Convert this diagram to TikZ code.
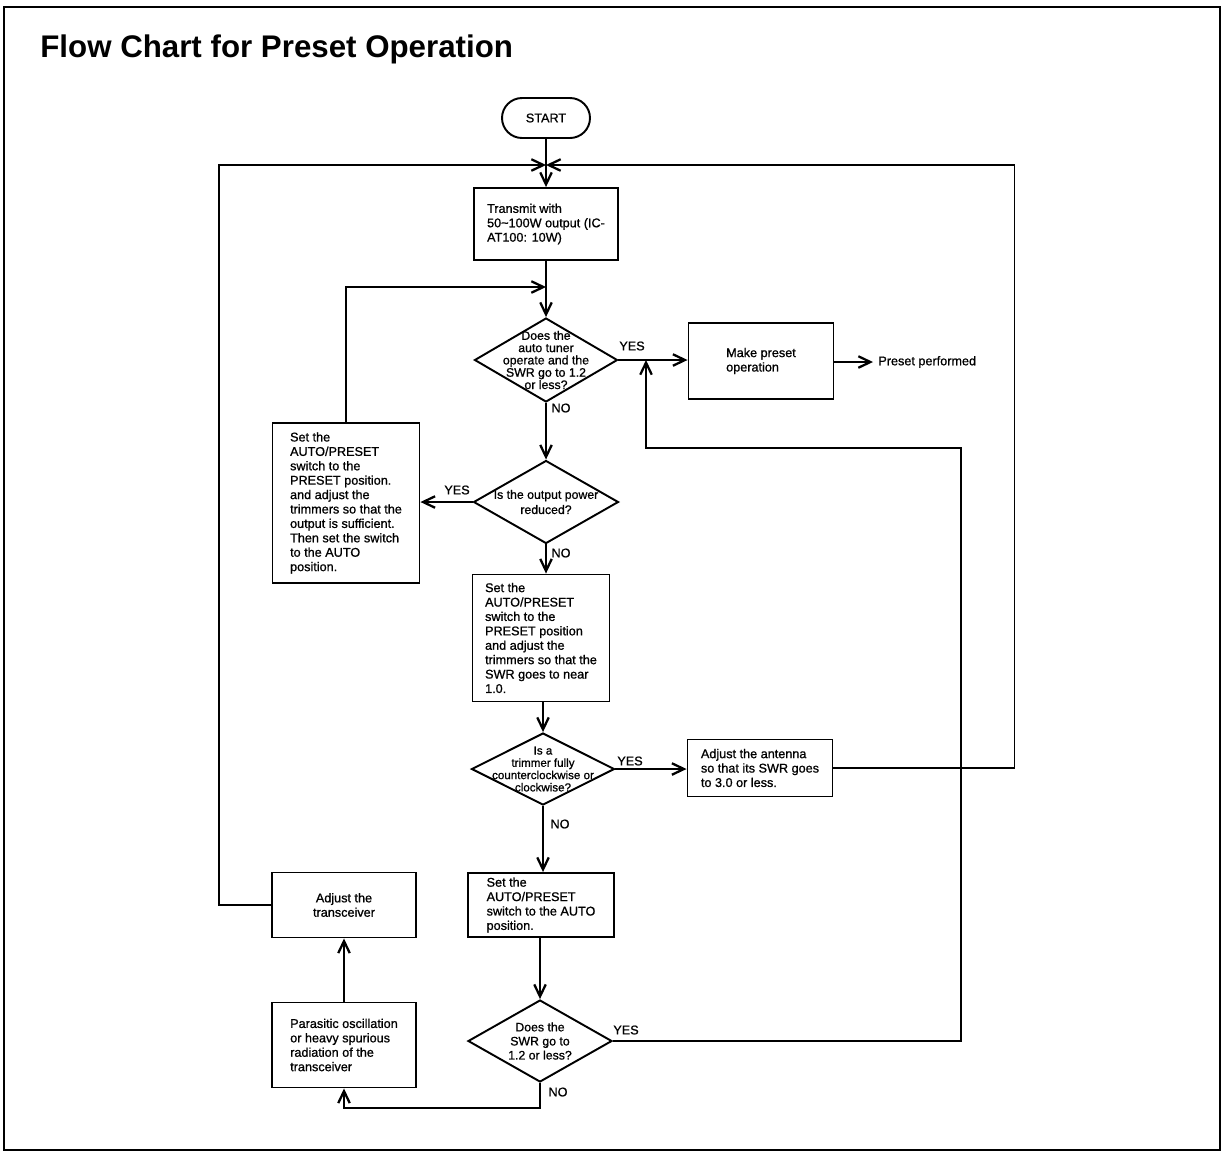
\documentclass[tikz,border=0pt]{standalone}
\usepackage{fontspec}
\setmainfont{Liberation Sans}
\newfontfamily\medfont{Liberation Sans}[FakeBold=0.9]
\usetikzlibrary{positioning,arrows.meta,shapes.geometric}
\newcommand{\boxfont}{\medfont\fontsize{7.2}{8.2}\selectfont}
\newcommand{\decfont}{\medfont\fontsize{7.0}{7.0}\selectfont}

\begin{document}
\begin{tikzpicture}[x=0.02cm, y=-0.02cm,
  box/.style={draw, line width=1.1pt, align=left, font=\boxfont, inner sep=0pt},
  dec/.style={draw, diamond, line width=1.1pt, inner sep=0pt},
  dtxt/.style={align=center, font=\decfont, inner sep=0pt},
  lbl/.style={font=\boxfont, inner sep=1pt},
  arr/.style={-{Straight Barb[length=2.4mm,width=2.3mm,line width=1.3pt]}, line width=1.1pt}]
\useasboundingbox (0,0) rectangle (1223,1154);
\draw[line width=1pt] (4,7) rectangle (1220,1150);
\node[anchor=base west, font=\fontsize{17.8}{20}\selectfont\bfseries, inner sep=0pt] (title) at (40,57) {Flow Chart for Preset Operation};

% main column
\node[box, rounded corners=0.4cm, minimum width=1.76cm, minimum height=0.8cm, align=center] (start) at (546,118) {START};
\node[box, minimum width=2.88cm, minimum height=1.44cm] (tx) at (546,224) {Transmit with\\50\textasciitilde 100W output (IC-\\AT100: 10W)};
\node[dec, minimum width=2.86cm, minimum height=1.68cm,
      label={[dtxt]center:Does the\\auto tuner\\operate and the\\SWR go to 1.2\\or less?}] (q1) at (546,360) {};
\node[box, minimum width=2.9cm, minimum height=1.52cm] (preset) at (761,361) {Make preset\\operation};
\node[anchor=west, font=\boxfont, inner sep=0pt] (done) at (878,362) {Preset performed};
\node[dec, minimum width=2.9cm, minimum height=1.66cm,
      label={[dtxt, font=\medfont\fontsize{7.0}{8.6}\selectfont]center:Is the output power\\reduced?}] (q2) at (546,502) {};
\node[box, minimum width=2.94cm, minimum height=3.2cm] (trim1) at (346,503) {Set the\\AUTO/PRESET\\switch to the\\PRESET position.\\and adjust the\\trimmers so that the\\output is sufficient.\\Then set the switch\\to the AUTO\\position.};
\node[box, minimum width=2.74cm, minimum height=2.54cm] (trim2) at (541,638) {Set the\\AUTO/PRESET\\switch to the\\PRESET position\\and adjust the\\trimmers so that the\\SWR goes to near\\1.0.};
\node[dec, minimum width=2.86cm, minimum height=1.44cm,
      label={[dtxt, font=\medfont\fontsize{6.6}{7.0}\selectfont]center:Is a\\trimmer fully\\counterclockwise or\\clockwise?}] (q3) at (543,769) {};
\node[box, minimum width=2.9cm, minimum height=1.14cm] (ant) at (760,768) {Adjust the antenna\\so that its SWR goes\\to 3.0 or less.};
\node[box, minimum width=2.92cm, minimum height=1.28cm] (auto) at (541,905) {Set the\\AUTO/PRESET\\switch to the AUTO\\position.};
\node[dec, minimum width=2.88cm, minimum height=1.64cm,
      label={[dtxt, font=\medfont\fontsize{7.0}{8.0}\selectfont]center:Does the\\SWR go to\\1.2 or less?}] (q4) at (540,1041) {};
\node[box, minimum width=2.88cm, minimum height=1.3cm, align=center] (xcvr) at (344,905) {Adjust the\\transceiver};
\node[box, minimum width=2.88cm, minimum height=1.7cm] (para) at (344,1045) {Parasitic oscillation\\or heavy spurious\\radiation of the\\transceiver};

\coordinate (jtop) at (546,165);
\coordinate (jmid) at (546,287);
\coordinate (yj) at (646,360);

% branch labels
\node[lbl] (y1) at (632,346) {YES};
\node[lbl] (n1) at (561,408) {NO};
\node[lbl] (y2) at (457,490) {YES};
\node[lbl] (n2) at (561,553) {NO};
\node[lbl] (y3) at (630,761) {YES};
\node[lbl] (n3) at (560,824) {NO};
\node[lbl] (y4) at (626,1030) {YES};
\node[lbl] (n4) at (558,1092) {NO};

% connectors
\draw[arr] (start) -- (tx);
\draw[arr] (xcvr.west) -- ++(-52,0) |- (jtop);
\draw[arr] (ant.east) -- ++(181,0) |- (jtop);
\draw[arr] (tx) -- (q1);
\draw[arr] (trim1.north) |- (jmid);
\draw[arr] (q1.east) -- (preset.west |- q1.east);
\draw[arr] (preset.east |- done.west) -- ([xshift=-0.1cm]done.west);
\draw[arr] (q1) -- (q2);
\draw[arr] (q2.west) -- (trim1.east |- q2.west);
\draw[arr] (q2.south) -- (q2.south |- trim2.north);
\draw[arr] (q3.north |- trim2.south) -- (q3.north);
\draw[arr] (q3.east) -- (ant.west |- q3.east);
\draw[arr] (q3.south) -- (q3.south |- auto.north);
\draw[arr] (q4.north |- auto.south) -- (q4.north);
\draw[arr] (q4.east) -- ++(348,0) |- ([yshift=-1.76cm]yj) -- (yj);
\draw[arr] (q4.south) -- ++(0,25) -| (para.south);
\draw[arr] (para) -- (xcvr);
\end{tikzpicture}
\end{document}
